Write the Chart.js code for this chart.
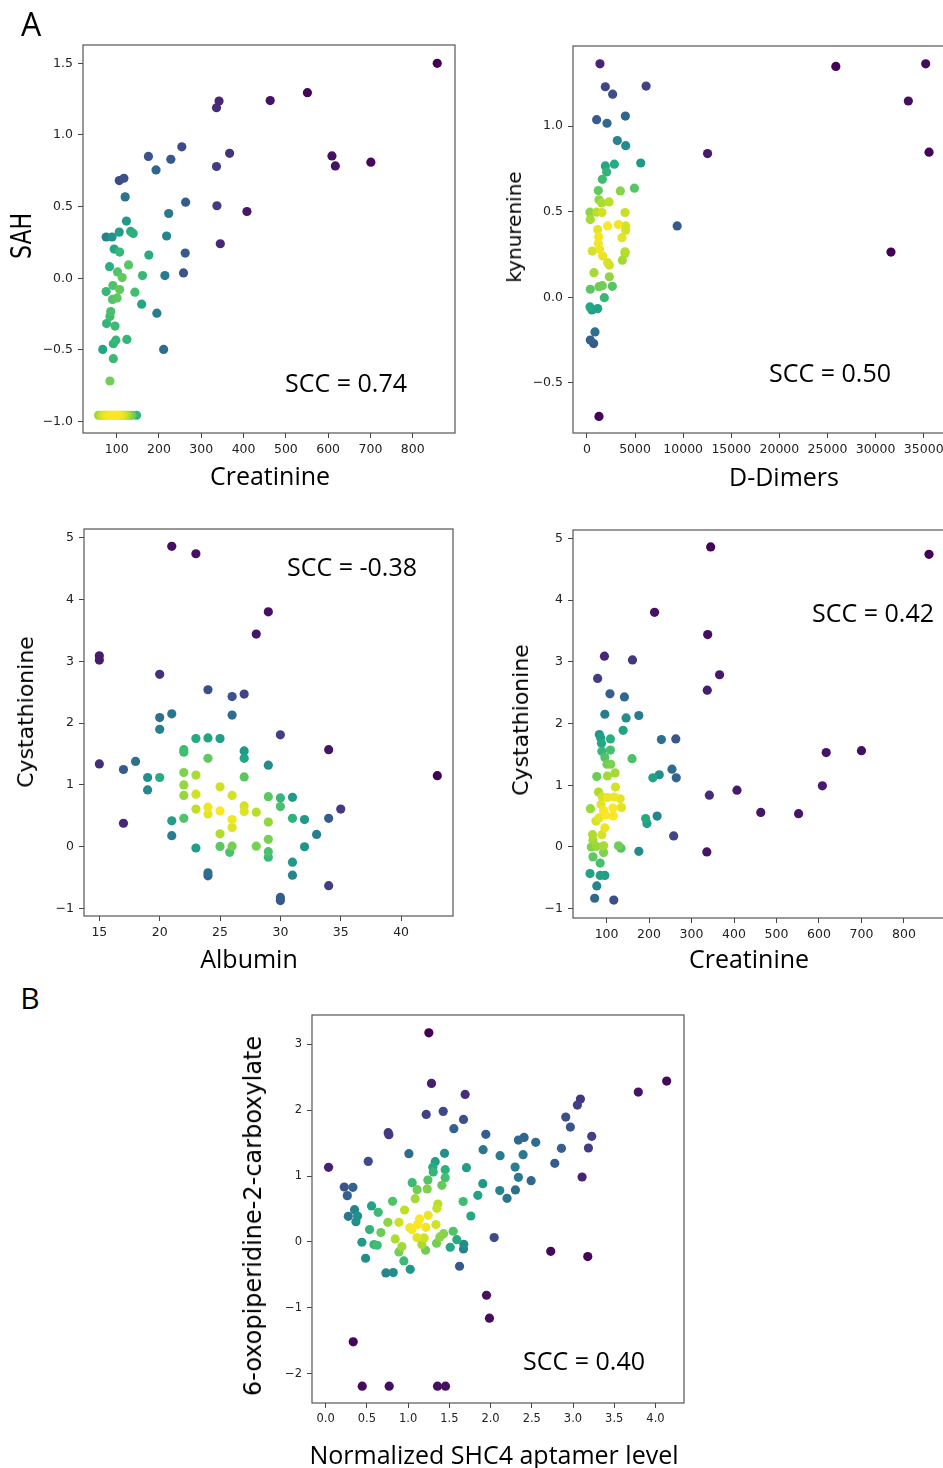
<!DOCTYPE html>
<html>
<head>
<meta charset="utf-8">
<script src="https://cdn.jsdelivr.net/npm/chart.js@4.4.1/dist/chart.umd.min.js"></script>
<style>
  body { margin: 0; background: #fff; width: 943px; height: 1468px; position: relative; overflow: hidden; }
  canvas { position: absolute; }
  .lbl { position: absolute; white-space: nowrap; color: #000; transform: translate(-50%, -50%); line-height: 1; }
  .o { font-family: "Open Sans", sans-serif; }
  .d { font-family: "DejaVu Sans", sans-serif; }
  .rot { transform: translate(-50%, -50%) rotate(-90deg); }
</style>
</head>
<body>
<canvas id="p1"></canvas>
<canvas id="p2"></canvas>
<canvas id="p3"></canvas>
<canvas id="p4"></canvas>
<canvas id="p5"></canvas>

<div class="lbl o" style="left:31px;top:24px;font-size:32px">A</div>
<div class="lbl o" style="left:30px;top:998px;font-size:30px">B</div>

<div class="lbl d" style="left:22px;top:236px;font-size:22px;transform:translate(-50%,-50%) rotate(-90deg) scaleY(1.3)">SAH</div>
<div class="lbl o" style="left:270px;top:475px;font-size:25px">Creatinine</div>
<div class="lbl o" style="left:346px;top:382px;font-size:25px">SCC = 0.74</div>

<div class="lbl d rot" style="left:514px;top:227px;font-size:20px">kynurenine</div>
<div class="lbl o" style="left:784px;top:476px;font-size:25px">D-Dimers</div>
<div class="lbl o" style="left:830px;top:372px;font-size:25px">SCC = 0.50</div>

<div class="lbl d rot" style="left:26px;top:712px;font-size:22px">Cystathionine</div>
<div class="lbl o" style="left:249px;top:958px;font-size:25px">Albumin</div>
<div class="lbl o" style="left:352px;top:566px;font-size:25px">SCC = -0.38</div>

<div class="lbl d rot" style="left:521px;top:720px;font-size:22px">Cystathionine</div>
<div class="lbl o" style="left:749px;top:958px;font-size:25px">Creatinine</div>
<div class="lbl o" style="left:873px;top:612px;font-size:25px">SCC = 0.42</div>

<div class="lbl d rot" style="left:253px;top:1216px;font-size:24px">6-oxopiperidine-2-carboxylate</div>
<div class="lbl o" style="left:494px;top:1454px;font-size:25px">Normalized SHC4 aptamer level</div>
<div class="lbl o" style="left:584px;top:1360px;font-size:25px">SCC = 0.40</div>

<script>
// panel A1: SAH vs creatinine (the bottom row is a floor value, several patients stacked)
const creatinineA = [858, 551, 463, 342, 336, 254, 175, 228, 367, 193, 336, 609, 617, 701, 106, 117, 120, 263, 337, 408,
  223, 123, 75, 89, 106, 133, 139, 218, 345, 94, 107, 176, 262, 83, 102, 113, 128, 161, 214, 258,
  91, 75, 107, 90, 101, 143, 159, 195, 86, 84, 76, 96, 98, 92, 124, 67, 92, 211, 84,
  57, 62, 67, 72, 76, 80, 84, 88, 92, 96, 100, 104, 108, 112, 116, 120, 125, 130, 136, 147,
  70, 78, 86, 94, 102, 110];
const sah = [1.50, 1.295, 1.24, 1.237, 1.19, 0.917, 0.85, 0.83, 0.872, 0.756, 0.78, 0.854, 0.784, 0.81, 0.682, 0.698, 0.568, 0.531, 0.506, 0.466,
  0.452, 0.399, 0.288, 0.288, 0.322, 0.327, 0.313, 0.295, 0.241, 0.204, 0.183, 0.162, 0.176, 0.081, 0.044, 0.005, 0.093, 0.019, 0.019, 0.037,
  -0.051, -0.093, -0.079, -0.148, -0.137, -0.097, -0.181, -0.244, -0.232, -0.267, -0.316, -0.334, -0.432, -0.457, -0.427, -0.497, -0.561, -0.497, -0.717,
  -0.956, -0.956, -0.956, -0.956, -0.956, -0.956, -0.956, -0.956, -0.956, -0.956, -0.956, -0.956, -0.956, -0.956, -0.956, -0.956, -0.956, -0.956, -0.956, -0.956,
  -0.956, -0.956, -0.956, -0.956, -0.956, -0.956];

// panel A2: kynurenine vs D-Dimers
const dDimers = [1354, 1910, 2673, 6145, 1007, 2083, 3993, 3159, 4027, 12534, 25868, 35208, 33402, 35555, 31597, 9375,
  1910, 2847, 2048, 1597, 5590, 1180, 3472, 4930, 1250, 1528, 2291, 312, 1007, 1562, 3958, 347,
  1111, 2152, 3264, 4027, 4027, 3645, 1215, 1180, 555, 1319, 1632, 3958, 3958, 3680, 2152, 2326,
  729, 2326, 347, 1250, 1597, 2639, 1805, 312, 520, 1111, 833, 347, 694, 1250];
const kynurenine = [1.363, 1.229, 1.186, 1.233, 1.037, 1.016, 1.058, 0.915, 0.885, 0.839, 1.348, 1.363, 1.146, 0.847, 0.264, 0.417,
  0.767, 0.777, 0.732, 0.689, 0.784, 0.623, 0.621, 0.637, 0.569, 0.551, 0.557, 0.497, 0.497, 0.495, 0.495, 0.454,
  0.396, 0.417, 0.425, 0.417, 0.392, 0.348, 0.353, 0.315, 0.270, 0.280, 0.241, 0.266, 0.256, 0.217, 0.202, 0.188,
  0.144, 0.120, 0.047, 0.062, 0.068, 0.064, -0.002, -0.056, -0.074, -0.066, -0.202, -0.249, -0.270, -0.695];

// panel A3: cystathionine vs albumin
const albumin = [21, 23, 29, 28, 15, 15, 20, 24, 26, 27, 26, 20, 21, 20, 30, 34, 23, 24, 25, 22,
  22, 27, 27, 24, 15, 17, 18, 29, 43, 19, 20, 19, 22, 23, 27, 22, 22, 23, 25, 26,
  24, 24, 25, 23, 27, 27, 28, 29, 30, 30, 31, 26, 26, 22, 21, 29, 31, 32, 34, 35,
  17, 21, 25, 33, 29, 23, 25, 26, 25.8, 28, 29, 29, 32, 31, 31, 24, 24, 34, 30, 30];
const cystathionineA = [4.86, 4.74, 3.80, 3.44, 3.09, 3.02, 2.79, 2.54, 2.43, 2.47, 2.13, 2.09, 2.15, 1.90, 1.81, 1.57, 1.75, 1.76, 1.75, 1.57,
  1.53, 1.55, 1.43, 1.43, 1.34, 1.25, 1.38, 1.32, 1.15, 1.12, 1.12, 0.92, 1.20, 1.16, 1.13, 1.00, 0.83, 0.85, 0.97, 0.83,
  0.64, 0.53, 0.58, 0.61, 0.66, 0.57, 0.56, 0.81, 0.79, 0.65, 0.80, 0.44, 0.31, 0.46, 0.42, 0.40, 0.46, 0.44, 0.46, 0.61,
  0.38, 0.18, 0.21, 0.20, 0.12, -0.02, 0.005, 0.01, -0.09, 0.01, -0.08, -0.17, 0.00, -0.25, -0.46, -0.42, -0.47, -0.63, -0.82, -0.87];

// panel A4: cystathionine vs creatinine
const creatinineB = [345, 859, 213, 338, 95, 161, 79, 366, 337, 108, 142, 96, 146, 176, 139, 83, 86, 109, 229, 263,
  88, 89, 109, 96, 160, 617, 700, 101, 110, 120, 102, 77, 254, 264, 224, 209, 608, 121, 81, 342,
  407, 90, 102, 118, 132, 87, 62, 93, 115, 135, 82, 98, 116, 75, 96, 463, 552, 192, 219, 195,
  67, 89, 68, 64, 76, 93, 93, 128, 134, 176, 258, 336, 68, 85, 61, 85, 96, 77, 72, 117];
const cystathionineB = [4.86, 4.74, 3.80, 3.44, 3.09, 3.03, 2.73, 2.79, 2.54, 2.48, 2.43, 2.15, 2.09, 2.13, 1.89, 1.82, 1.77, 1.75, 1.74, 1.75,
  1.68, 1.55, 1.57, 1.45, 1.43, 1.53, 1.56, 1.34, 1.34, 1.20, 1.15, 1.14, 1.26, 1.12, 1.17, 1.12, 0.99, 0.97, 0.89, 0.84,
  0.92, 0.81, 0.80, 0.81, 0.78, 0.69, 0.62, 0.59, 0.63, 0.64, 0.47, 0.52, 0.50, 0.42, 0.31, 0.56, 0.54, 0.46, 0.50, 0.38,
  0.20, 0.20, 0.11, 0.00, 0.01, 0.02, -0.09, 0.02, -0.02, -0.07, 0.18, -0.08, -0.16, -0.26, -0.43, -0.46, -0.46, -0.63, -0.83, -0.86];

// panel B: 6-oxopiperidine-2-carboxylate vs SHC4 aptamer
const shc4 = [1.252, 1.284, 1.692, 1.22, 1.426, 1.672, 1.555, 0.759, 0.767, 0.517, 0.036, 1.01, 0.226, 0.331, 0.263, 0.351,
  0.275, 0.388, 0.368, 0.557, 0.638, 0.812, 0.533, 0.67, 0.44, 0.485, 0.586, 0.626, 0.755, 0.889, 0.957, 0.844,
  0.925, 0.889, 0.949, 1.026, 0.731, 0.82, 1.022, 1.046, 1.139, 1.244, 1.115, 1.216, 1.337, 1.107, 1.196, 1.167,
  1.212, 1.345, 1.385, 1.43, 1.547, 1.591, 1.511, 1.676, 1.672, 1.624, 1.05, 1.11, 1.086, 1.232, 1.24, 1.3,
  1.329, 1.305, 1.45, 1.45, 1.442, 1.41, 1.361, 1.349, 1.668, 1.761, 1.708, 1.846, 1.906, 1.91, 1.943, 2.044,
  2.116, 2.112, 2.2, 2.298, 2.338, 2.302, 2.395, 2.338, 2.407, 2.548, 2.492, 2.779, 2.86, 2.912, 2.968, 3.053,
  3.09, 3.227, 3.187, 3.11, 3.792, 4.136, 2.73, 3.179, 1.951, 1.987, 0.335, 0.444, 0.771, 1.357, 1.454];
const oxopiperidine = [3.175, 2.407, 2.24, 1.936, 1.982, 1.86, 1.719, 1.658, 1.628, 1.223, 1.132, 1.34, 0.834, 0.829, 0.703, 0.49,
  0.389, 0.394, 0.308, 0.546, 0.45, 0.617, 0.187, 0.142, -0.005, -0.248, -0.04, -0.05, 0.298, 0.298, 0.485, 0.045,
  -0.071, -0.152, -0.288, -0.415, -0.47, -0.465, 0.217, 0.187, 0.349, 0.404, 0.263, 0.222, 0.263, 0.066, 0.061, -0.04,
  -0.126, -0.02, 0.076, 0.126, 0.162, 0.035, -0.081, -0.035, -0.106, -0.369, 0.9, 0.794, 0.657, 0.804, 0.94, 1.132,
  1.218, 1.062, 1.097, 0.976, 1.345, 0.859, 0.576, 0.51, 0.612, 0.394, 1.127, 0.708, 0.885, 1.4, 1.633, 0.066,
  1.309, 0.779, 0.662, 1.137, 0.981, 0.789, 1.325, 1.547, 1.587, 1.512, 0.93, 1.193, 1.421, 1.896, 1.744, 2.078,
  2.169, 1.603, 1.426, 0.986, 2.275, 2.442, -0.142, -0.222, -0.809, -1.158, -1.517, -2.189, -2.189, -2.189, -2.189];

// tick labels
const creatinineTicks = [100, 200, 300, 400, 500, 600, 700, 800];
const sahTicks = [-1.0, -0.5, 0.0, 0.5, 1.0, 1.5];
const dDimerTicks = [0, 5000, 10000, 15000, 20000, 25000, 30000, 35000];
const kynurenineTicks = [-0.5, 0.0, 0.5, 1.0];
const albuminTicks = [15, 20, 25, 30, 35, 40];
const cystathionineTicks = [-1, 0, 1, 2, 3, 4, 5];
const shc4Ticks = [0.0, 0.5, 1.0, 1.5, 2.0, 2.5, 3.0, 3.5, 4.0];
const oxoTicks = [-2, -1, 0, 1, 2, 3];

const viridis = ['#440154', '#482475', '#414487', '#355f8d', '#2a788e', '#21918c',
  '#22a884', '#44bf70', '#7ad151', '#bddf26', '#fde725'];

function cmap(t) {
  t = Math.max(0, Math.min(1, t));
  const p = t * (viridis.length - 1);
  const i = Math.min(Math.floor(p), viridis.length - 2);
  const f = p - i;
  const a = parseInt(viridis[i].slice(1), 16), b = parseInt(viridis[i + 1].slice(1), 16);
  const ch = s => Math.round(((a >> s) & 255) * (1 - f) + ((b >> s) & 255) * f);
  return `rgb(${ch(16)},${ch(8)},${ch(0)})`;
}

// gaussian kde (scott bandwidth), like scipy's gaussian_kde
function density(xs, ys) {
  const n = xs.length;
  const mx = xs.reduce((s, v) => s + v, 0) / n, my = ys.reduce((s, v) => s + v, 0) / n;
  let sxx = 0, syy = 0, sxy = 0;
  for (let i = 0; i < n; i++) {
    sxx += (xs[i] - mx) ** 2; syy += (ys[i] - my) ** 2; sxy += (xs[i] - mx) * (ys[i] - my);
  }
  const f2 = Math.pow(n, -1 / 3);
  const a = sxx / (n - 1) * f2, d = syy / (n - 1) * f2, b = sxy / (n - 1) * f2;
  const det = a * d - b * b;
  const ia = d / det, id = a / det, ib = -b / det;
  return xs.map((x, i) => {
    let s = 0;
    for (let j = 0; j < n; j++) {
      const dx = x - xs[j], dy = ys[i] - ys[j];
      s += Math.exp(-0.5 * (ia * dx * dx + 2 * ib * dx * dy + id * dy * dy));
    }
    return s;
  });
}

const fmt = (v, dec) => v.toFixed(dec).replace('-', '\u2212');

const frame = {
  id: 'frame',
  afterDatasetsDraw(chart) {
    const a = chart.chartArea, ctx = chart.ctx;
    ctx.save();
    ctx.strokeStyle = '#555';
    ctx.lineWidth = 1.2;
    ctx.strokeRect(a.left, a.top, a.right - a.left, a.bottom - a.top);
    ctx.restore();
  }
};

function makePanel(id, box, xs, ys, xLim, yLim, xTicks, yTicks, xDec, yDec, fontSize) {
  const [L, T, R, B] = box;
  const padL = 70, padT = 6, padR = 16, padB = 34;
  const w = R - L + padL + padR, h = B - T + padT + padB;
  const cv = document.getElementById(id);
  cv.width = w; cv.height = h;
  cv.style.left = (L - padL) + 'px';
  cv.style.top = (T - padT) + 'px';
  cv.style.width = w + 'px';
  cv.style.height = h + 'px';

  const z = density(xs, ys);
  const zMin = Math.min(...z), zMax = Math.max(...z);
  const order = z.map((v, i) => i).sort((i, j) => z[i] - z[j]);
  const pts = order.map(i => ({ x: xs[i], y: ys[i] }));
  const cols = order.map(i => cmap((z[i] - zMin) / (zMax - zMin)));

  const tickFont = { family: 'DejaVu Sans', size: fontSize };
  new Chart(cv, {
    type: 'scatter',
    data: {
      datasets: [{
        data: pts,
        backgroundColor: cols,
        borderWidth: 0,
        pointRadius: 4.6,
        pointHoverRadius: 4.6
      }]
    },
    options: {
      responsive: false,
      animation: false,
      events: [],
      layout: { padding: { left: 0, top: padT, right: padR, bottom: 0 } },
      plugins: { legend: { display: false }, tooltip: { enabled: false } },
      scales: {
        x: {
          type: 'linear', min: xLim[0], max: xLim[1],
          afterBuildTicks: s => { s.ticks = xTicks.map(v => ({ value: v })); },
          afterFit: s => { s.height = padB; s.paddingLeft = 0; s.paddingRight = 0; },
          ticks: { font: tickFont, color: '#222', padding: 4, maxRotation: 0, autoSkip: false, callback: v => fmt(v, xDec) },
          grid: { drawOnChartArea: false, tickLength: 5, color: '#444' },
          border: { display: false }
        },
        y: {
          type: 'linear', min: yLim[0], max: yLim[1],
          afterBuildTicks: s => { s.ticks = yTicks.map(v => ({ value: v })); },
          afterFit: s => { s.width = padL; s.paddingTop = 0; s.paddingBottom = 0; },
          ticks: { font: tickFont, color: '#222', padding: 5, autoSkip: false, callback: v => fmt(v, yDec) },
          grid: { drawOnChartArea: false, tickLength: 5, color: '#444' },
          border: { display: false }
        }
      }
    },
    plugins: [frame]
  });
}

makePanel('p1', [83, 45, 455, 433], creatinineA, sah, [20.3, 900], [-1.08, 1.628], creatinineTicks, sahTicks, 0, 1, 12.5);
makePanel('p2', [573, 46, 946, 433], dDimers, kynurenine, [-1450, 37317], [-0.792, 1.467], dDimerTicks, kynurenineTicks, 0, 1, 12.5);
makePanel('p3', [84, 529, 453, 916], albumin, cystathionineA, [13.73, 44.3], [-1.12, 5.14], albuminTicks, cystathionineTicks, 0, 0, 12.5);
makePanel('p4', [573, 530, 946, 918], creatinineB, cystathionineB, [21, 899], [-1.15, 5.134], creatinineTicks, cystathionineTicks, 0, 0, 12.5);
makePanel('p5', [312, 1015, 684, 1403], shc4, oxopiperidine, [-0.165, 4.346], [-2.445, 3.445], shc4Ticks, oxoTicks, 1, 0, 11.5);
</script>
</body>
</html>
